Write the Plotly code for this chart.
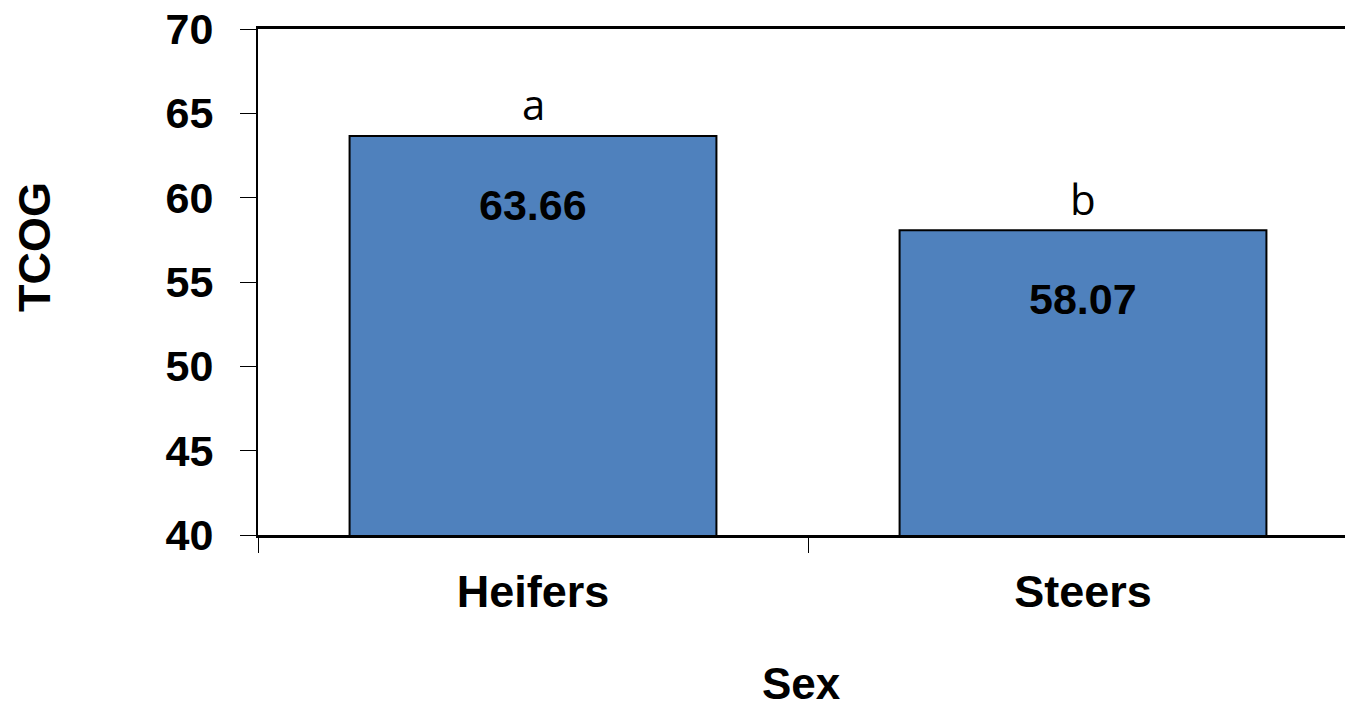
import plotly.graph_objects as go

categories = ["Heifers", "Steers"]
values = [63.66, 58.07]
value_labels = ["63.66", "58.07"]
letters = ["a", "b"]
y_ticks = [40, 45, 50, 55, 60, 65, 70]

W, H = 1345, 709
L, T, B, R = 258, 29, 174, 0

FAM = "Liberation Sans, Arial, sans-serif"

fig = go.Figure()
fig.add_trace(go.Bar(
    x=categories, y=values, width=0.667,
    marker=dict(color="#4F81BD", line=dict(color="black", width=2)),
    showlegend=False, hoverinfo="skip",
))

for c, v, lab, let in zip(categories, values, value_labels, letters):
    fig.add_annotation(x=c, y=v, text="<b>%s</b>" % lab, showarrow=False,
                       yshift=-69, font=dict(size=43, family=FAM, color="black"))
    fig.add_annotation(x=c, y=v, text=let, showarrow=False, yshift=32,
                       font=dict(size=42, family="Open Sans, sans-serif", color="black"))

plot_w = W - L - R
plot_h = H - T - B
fig.add_annotation(xref="paper", yref="paper", x=(35 - L) / plot_w, y=(535 - 247) / plot_h,
                   xanchor="center", yanchor="middle",
                   text="<b>TCOG</b>", textangle=-90, showarrow=False,
                   font=dict(size=45, family=FAM, color="black"))
fig.add_annotation(xref="paper", yref="paper", x=(801 - L) / plot_w, y=(535 - 683) / plot_h,
                   xanchor="center", yanchor="middle",
                   text="<b>Sex</b>", showarrow=False,
                   font=dict(size=44, family=FAM, color="black"))

fig.update_layout(
    width=W, height=H,
    margin=dict(l=L, r=R, t=T, b=B, pad=0),
    paper_bgcolor="white", plot_bgcolor="white",
    xaxis=dict(
        range=[-0.5, 1.5 - 13 / 550], showline=True, linecolor="black", linewidth=3,
        mirror=True, ticks="outside", tickson="boundaries", ticklen=15, tickwidth=1,
        tickcolor="black", showgrid=False, zeroline=False,
        tickfont=dict(size=45, family=FAM, color="black", weight="bold"),
        ticklabelstandoff=15,
    ),
    yaxis=dict(
        range=[40, 70], tickvals=y_ticks, showline=True, linecolor="black", linewidth=2,
        ticks="outside", ticklen=16, tickwidth=1, tickcolor="black",
        showgrid=False, zeroline=False,
        tickfont=dict(size=43, family=FAM, color="black", weight="bold"),
        ticklabelstandoff=18,
    ),
)

fig.write_html("out.html", config={"displayModeBar": False},
               post_script="document.body.style.margin='0px';")
